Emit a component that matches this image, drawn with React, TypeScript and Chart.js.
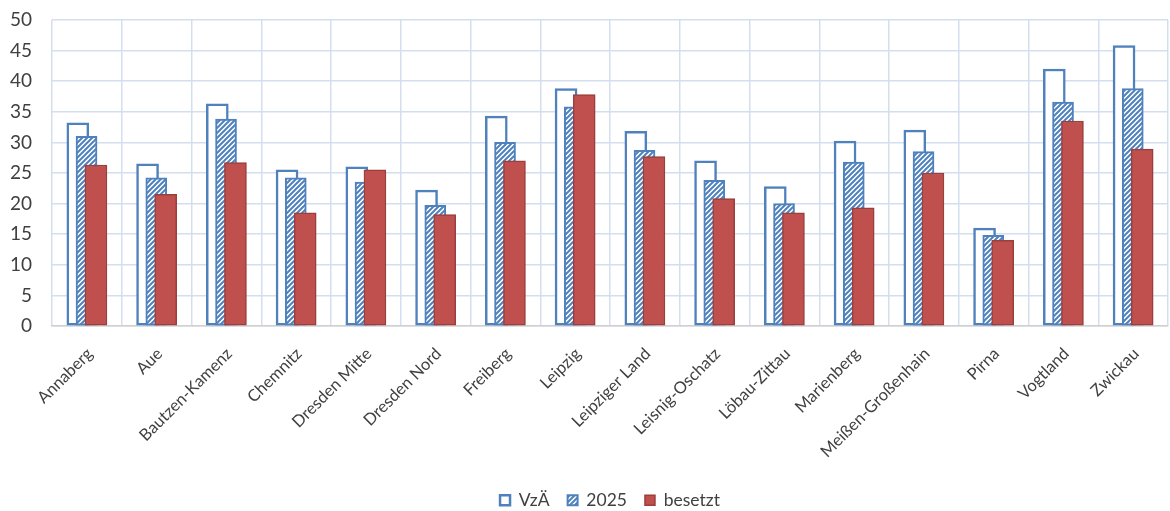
import React, { useEffect, useRef } from 'react';
import { Chart, registerables } from 'chart.js';

Chart.register(...registerables);

const categories = [
  'Annaberg', 'Aue', 'Bautzen-Kamenz', 'Chemnitz', 'Dresden Mitte', 'Dresden Nord',
  'Freiberg', 'Leipzig', 'Leipziger Land', 'Leisnig-Oschatz', 'Löbau-Zittau',
  'Marienberg', 'Meißen-Großenhain', 'Pirna', 'Vogtland', 'Zwickau',
];
const seriesNames = ['VzÄ', '2025', 'besetzt'];
const vzae = [33.2, 26.5, 36.3, 25.5, 26.0, 22.2, 34.3, 38.8, 31.8, 27.0, 22.8, 30.2, 32.0, 16.0, 42.0, 45.8];
const ziel2025 = [31.0, 24.2, 33.8, 24.2, 23.5, 19.7, 30.0, 35.8, 28.7, 23.8, 20.0, 26.8, 28.5, 14.8, 36.6, 38.8];
const besetzt = [26.3, 21.5, 26.7, 18.5, 25.5, 18.2, 27.0, 37.8, 27.7, 20.8, 18.5, 19.3, 25.0, 14.0, 33.5, 28.9];
const yMin = 0;
const yMax = 50;
const yStep = 5;

const BLUE = '#4F81BD';
const RED = '#C0504D';
const RED_BORDER = '#9A3F3C';
const GRID = '#D3DEEF';
const TEXT = '#404040';
const FONT = 'Lato, "Open Sans", sans-serif';

// horizontal shift of each series inside its category (in category units)
const shifts = [-0.13, -0.005, 0.13];

function makeHatch(ctx: CanvasRenderingContext2D) {
  const s = 5;
  const c = document.createElement('canvas');
  c.width = s;
  c.height = s;
  const g = c.getContext('2d')!;
  g.fillStyle = '#ffffff';
  g.fillRect(0, 0, s, s);
  g.strokeStyle = BLUE;
  g.lineWidth = 2;
  g.beginPath();
  g.moveTo(-1, s + 1); g.lineTo(s + 1, -1);
  g.moveTo(-1, 1); g.lineTo(1, -1);
  g.moveTo(s - 1, s + 1); g.lineTo(s + 1, s - 1);
  g.stroke();
  return ctx.createPattern(c, 'repeat')!;
}

export default function App() {
  const ref = useRef<HTMLCanvasElement | null>(null);

  useEffect(() => {
    const canvas = ref.current!;
    const ctx = canvas.getContext('2d')!;
    const hatch = makeHatch(ctx);
    const pts = (arr: number[], k: number) => arr.map((v, i) => ({ x: i + shifts[k], y: v }));

    const chart = new Chart(canvas, {
      type: 'bar',
      data: {
        datasets: [
          { label: seriesNames[0], data: pts(vzae, 0), backgroundColor: '#ffffff', borderColor: BLUE, borderWidth: 2.5, borderSkipped: false, barThickness: 22, grouped: false, xAxisID: 'xb', order: 3 },
          { label: seriesNames[1], data: pts(ziel2025, 1), backgroundColor: hatch, borderColor: BLUE, borderWidth: 2, borderSkipped: false, barThickness: 21, grouped: false, xAxisID: 'xb', order: 2 },
          { label: seriesNames[2], data: pts(besetzt, 2), backgroundColor: RED, borderColor: RED_BORDER, borderWidth: 1.5, borderSkipped: false, barThickness: 22, grouped: false, xAxisID: 'xb', order: 1 },
        ] as any,
      },
      options: {
        animation: false,
        responsive: false,
        maintainAspectRatio: false,
        layout: { padding: { top: 20, right: 2, left: 0, bottom: -8 } },
        plugins: {
          legend: {
            position: 'bottom',
            fullSize: false,
            reverse: true,
            labels: { boxWidth: 10, boxHeight: 10, padding: 18, color: TEXT, font: { family: FONT, size: 17.5 } },
          },
          tooltip: { enabled: false },
        },
        scales: {
          x: {
            type: 'category',
            labels: categories,
            offset: true,
            grid: { offset: true, color: GRID, lineWidth: 1.5, drawTicks: false },
            border: { display: true, color: '#D0D0D0', width: 1.5 },
            ticks: { autoSkip: false, maxRotation: 45, minRotation: 45, padding: 18, labelOffset: 3, color: TEXT, font: { family: FONT, size: 16.5 } },
            afterFit: (s: any) => { s.height = 147.5; },
          },
          xb: { type: 'linear', min: -0.5, max: categories.length - 0.5, offset: false, display: false },
          y: {
            min: yMin,
            max: yMax,
            ticks: { stepSize: yStep, padding: 2, color: TEXT, font: { family: FONT, size: 19 } },
            grid: { color: GRID, lineWidth: 1.5, drawTicks: true, tickLength: 18, tickColor: 'rgba(0,0,0,0)' },
            border: { display: false },
            afterFit: (s: any) => { s.width = 52; },
          },
        },
      } as any,
    });
    return () => chart.destroy();
  }, []);

  return (
    <div style={{ position: 'fixed', left: 0, top: 0, width: 1170, height: 511, background: '#fff' }}>
      <canvas ref={ref} width={1170} height={511} style={{ width: 1170, height: 511 }} />
    </div>
  );
}
